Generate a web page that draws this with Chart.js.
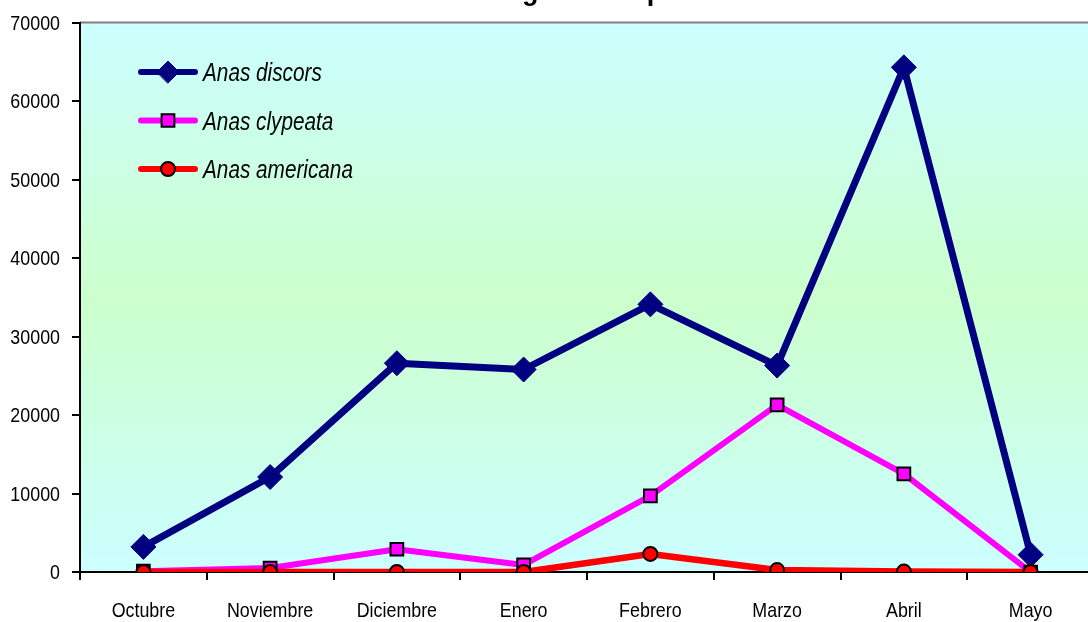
<!DOCTYPE html>
<html>
<head>
<meta charset="utf-8">
<script src="https://cdn.jsdelivr.net/npm/chart.js@4/dist/chart.umd.min.js"></script>
<style>
  html, body { margin: 0; padding: 0; background: #ffffff; overflow: hidden; }
  #wrap { position: relative; width: 1094px; height: 622px; }
</style>
</head>
<body>
<div id="wrap"><canvas id="c" width="1094" height="622"></canvas></div>
<script>
// Months of the migration season
const months = ['Octubre', 'Noviembre', 'Diciembre', 'Enero', 'Febrero', 'Marzo', 'Abril', 'Mayo'];

// Individuals counted per month, by species
const anasDiscors   = [3200, 12100, 26600, 25800, 34100, 26300, 64300, 2200];
const anasClypeata  = [100, 500, 2900, 900, 9700, 21300, 12500, 0];
const anasAmericana = [0, 0, 0, 0, 2300, 250, 50, 0];

const seriesNames = ['Anas discors', 'Anas clypeata', 'Anas americana'];

// Value axis
const yMin = 0, yMax = 70000, yStep = 10000;

const titleText = 'Gráfica 3. Número de individuos migratorios por mes en Sonora';

const baseFamily = "'Liberation Sans', Arial, sans-serif";

// Draws text squeezed horizontally (narrow face look)
function narrowText(ctx, text, x, y, align, squeeze) {
  ctx.save();
  ctx.translate(x, y);
  ctx.scale(squeeze, 1);
  ctx.textAlign = align;
  ctx.fillText(text, 0, 0);
  ctx.restore();
}

// Plot background: cyan at the edges, pale green in the middle
const backgroundPlugin = {
  id: 'plotBackground',
  beforeDraw(chart) {
    const { ctx, chartArea: a } = chart;
    const g = ctx.createLinearGradient(0, a.top, 0, a.bottom);
    g.addColorStop(0, '#CCFFFF');
    g.addColorStop(0.5, '#CCFFCC');
    g.addColorStop(1, '#CCFFFF');
    ctx.save();
    ctx.fillStyle = g;
    ctx.fillRect(a.left, a.top, a.right - a.left, a.bottom - a.top);
    // top frame line
    ctx.strokeStyle = '#808080';
    ctx.lineWidth = 2;
    ctx.beginPath();
    ctx.moveTo(a.left, a.top);
    ctx.lineTo(a.right, a.top);
    ctx.stroke();
    ctx.restore();
  }
};

// Axis labels (narrow), title at the top edge and the in-plot legend
const overlayPlugin = {
  id: 'overlay',
  afterDraw(chart) {
    const { ctx } = chart;
    ctx.save();
    ctx.fillStyle = '#000';

    // title
    ctx.font = 'bold 27px ' + baseFamily;
    ctx.textBaseline = 'alphabetic';
    ctx.textAlign = 'left';
    ctx.fillText(titleText, 69, -0.5);

    // category labels
    ctx.font = '21px ' + baseFamily;
    const xs = chart.scales.x;
    xs.ticks.forEach((t, i) => {
      narrowText(ctx, xs.getLabelForValue(t.value), xs.getPixelForTick(i), 617, 'center', 0.85);
    });
    // value labels
    const ys = chart.scales.y;
    ys.ticks.forEach((t, i) => {
      narrowText(ctx, String(t.value), 60, ys.getPixelForTick(i) + 7, 'right', 0.85);
    });

    // legend
    [0, 1, 2].forEach((i, k) => {
      const ds = chart.data.datasets[i];
      const y = 72 + k * 48.5;
      ctx.strokeStyle = ds.borderColor;
      ctx.lineWidth = 6;
      ctx.lineCap = 'round';
      ctx.beginPath();
      ctx.moveTo(141, y);
      ctx.lineTo(195, y);
      ctx.stroke();
      ctx.fillStyle = ds.pointBackgroundColor;
      ctx.strokeStyle = ds.pointBorderColor;
      ctx.lineWidth = ds.pointBorderWidth;
      Chart.helpers.drawPoint(ctx, {
        pointStyle: ds.pointStyle,
        radius: ds.pointStyle === 'rectRot' ? 11 : ds.pointRadius,
        rotation: 0,
        borderWidth: ds.pointBorderWidth
      }, 168, y);
      ctx.fillStyle = '#000';
      ctx.font = 'italic 25px ' + baseFamily;
      ctx.textBaseline = 'alphabetic';
      narrowText(ctx, ds.label, 203, y + 9, 'left', 0.83);
    });
    ctx.restore();
  }
};

new Chart(document.getElementById('c'), {
  type: 'line',
  data: {
    labels: months,
    datasets: [
      {
        label: seriesNames[0],
        data: anasDiscors,
        borderColor: '#000080',
        backgroundColor: '#000080',
        borderWidth: 7,
        pointStyle: 'rectRot',
        pointRadius: 12.5,
        pointBackgroundColor: '#000080',
        pointBorderColor: '#000080',
        pointBorderWidth: 1,
        borderJoinStyle: 'round',
        order: 3
      },
      {
        label: seriesNames[1],
        data: anasClypeata,
        borderColor: '#FF00FF',
        backgroundColor: '#FF00FF',
        borderWidth: 6,
        pointStyle: 'rect',
        pointRadius: 9,
        pointBackgroundColor: '#FF00FF',
        pointBorderColor: '#000000',
        pointBorderWidth: 2,
        borderJoinStyle: 'round',
        order: 2
      },
      {
        label: seriesNames[2],
        data: anasAmericana,
        borderColor: '#FF0000',
        backgroundColor: '#FF0000',
        borderWidth: 6.5,
        pointStyle: 'circle',
        pointRadius: 7,
        pointBackgroundColor: '#FF0000',
        pointBorderColor: '#000000',
        pointBorderWidth: 2,
        borderJoinStyle: 'round',
        order: 1
      }
    ]
  },
  options: {
    responsive: false,
    animation: false,
    devicePixelRatio: 1,
    layout: { autoPadding: false, padding: { top: 22, right: 0, bottom: 0, left: 0 } },
    plugins: {
      legend: { display: false },
      tooltip: { enabled: false },
      title: { display: false }
    },
    elements: { line: { tension: 0 } },
    scales: {
      x: {
        offset: true,
        border: { color: '#000', width: 2 },
        grid: { offset: true, drawOnChartArea: false, color: '#000', lineWidth: 2, tickLength: 8 },
        ticks: { color: 'rgba(0,0,0,0)', font: { family: baseFamily, size: 21 }, padding: 14, maxRotation: 0, autoSkip: false },
        afterFit(s) { s.height = 50; }
      },
      y: {
        min: yMin,
        max: yMax,
        border: { color: '#000', width: 2 },
        grid: { drawOnChartArea: false, color: '#000', lineWidth: 2, tickLength: 8 },
        ticks: { stepSize: yStep, color: 'rgba(0,0,0,0)', font: { family: baseFamily, size: 21 }, padding: 10 },
        afterFit(s) { s.width = 80; }
      }
    }
  },
  plugins: [backgroundPlugin, overlayPlugin]
});
</script>
</body>
</html>
